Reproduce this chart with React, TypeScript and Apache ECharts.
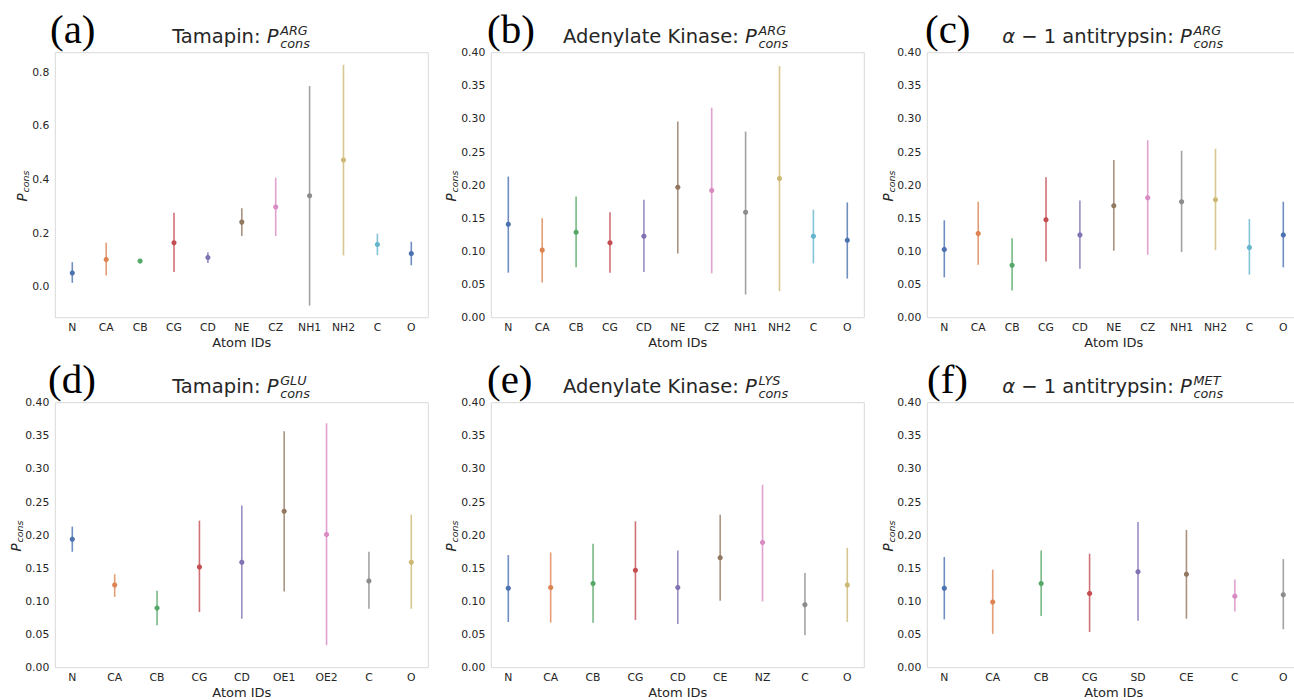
import React, { useEffect, useRef } from 'react';
import * as echarts from 'echarts';

const PALETTE = ['#4C72B0', '#DD8452', '#55A868', '#C44E52', '#8172B3', '#937860', '#DA8BC3', '#8C8C8C', '#CCB974', '#64B5CD'];

// (a) Tamapin ARG
const atomsA = ['N', 'CA', 'CB', 'CG', 'CD', 'NE', 'CZ', 'NH1', 'NH2', 'C', 'O'];
const meanA = [0.052, 0.102, 0.096, 0.164, 0.109, 0.241, 0.297, 0.339, 0.472, 0.158, 0.124];
const lowA = [0.015, 0.042, 0.093, 0.055, 0.089, 0.189, 0.189, -0.070, 0.117, 0.118, 0.080];
const highA = [0.092, 0.164, 0.099, 0.276, 0.129, 0.293, 0.406, 0.748, 0.827, 0.198, 0.168];

// (b) Adenylate Kinase ARG
const atomsB = ['N', 'CA', 'CB', 'CG', 'CD', 'NE', 'CZ', 'NH1', 'NH2', 'C', 'O'];
const meanB = [0.141, 0.102, 0.129, 0.113, 0.123, 0.197, 0.192, 0.159, 0.210, 0.123, 0.117];
const lowB = [0.068, 0.053, 0.076, 0.068, 0.069, 0.097, 0.067, 0.035, 0.040, 0.082, 0.059];
const highB = [0.213, 0.150, 0.183, 0.159, 0.178, 0.296, 0.317, 0.281, 0.380, 0.163, 0.174];

// (c) alpha-1 antitrypsin ARG
const atomsC = ['N', 'CA', 'CB', 'CG', 'CD', 'NE', 'CZ', 'NH1', 'NH2', 'C', 'O'];
const meanC = [0.103, 0.127, 0.079, 0.148, 0.125, 0.169, 0.181, 0.175, 0.178, 0.106, 0.125];
const lowC = [0.061, 0.080, 0.041, 0.085, 0.074, 0.101, 0.095, 0.099, 0.102, 0.065, 0.076];
const highC = [0.147, 0.175, 0.120, 0.212, 0.177, 0.238, 0.268, 0.252, 0.255, 0.149, 0.175];

// (d) Tamapin GLU
const atomsD = ['N', 'CA', 'CB', 'CG', 'CD', 'OE1', 'OE2', 'C', 'O'];
const meanD = [0.194, 0.125, 0.090, 0.152, 0.159, 0.236, 0.201, 0.131, 0.159];
const lowD = [0.175, 0.107, 0.064, 0.084, 0.074, 0.115, 0.034, 0.089, 0.089];
const highD = [0.213, 0.141, 0.116, 0.222, 0.245, 0.357, 0.369, 0.175, 0.231];

// (e) Adenylate Kinase LYS
const atomsE = ['N', 'CA', 'CB', 'CG', 'CD', 'CE', 'NZ', 'C', 'O'];
const meanE = [0.120, 0.121, 0.127, 0.147, 0.121, 0.166, 0.189, 0.095, 0.125];
const lowE = [0.069, 0.068, 0.068, 0.072, 0.066, 0.101, 0.100, 0.049, 0.069];
const highE = [0.170, 0.174, 0.187, 0.221, 0.177, 0.231, 0.276, 0.143, 0.181];

// (f) alpha-1 antitrypsin MET
const atomsF = ['N', 'CA', 'CB', 'CG', 'SD', 'CE', 'C', 'O'];
const meanF = [0.120, 0.099, 0.127, 0.112, 0.145, 0.141, 0.108, 0.110];
const lowF = [0.073, 0.051, 0.078, 0.054, 0.071, 0.074, 0.085, 0.058];
const highF = [0.167, 0.148, 0.177, 0.172, 0.220, 0.208, 0.133, 0.164];

const titleMain = ['Tamapin: ', 'Adenylate Kinase: ', 'α − 1 antitrypsin: ', 'Tamapin: ', 'Adenylate Kinase: ', 'α − 1 antitrypsin: '];
const titleSup = ['ARG', 'ARG', 'ARG', 'GLU', 'LYS', 'MET'];
const letters = ['(a)', '(b)', '(c)', '(d)', '(e)', '(f)'];
const yLimits = [[-0.1149, 0.8719], [0, 0.4], [0, 0.4], [0, 0.4], [0, 0.4], [0, 0.4]];
const yStep = [0.2, 0.05, 0.05, 0.05, 0.05, 0.05];
const yDecimals = [1, 2, 2, 2, 2, 2];

const panelsData = [
  [atomsA, meanA, lowA, highA],
  [atomsB, meanB, lowB, highB],
  [atomsC, meanC, lowC, highC],
  [atomsD, meanD, lowD, highD],
  [atomsE, meanE, lowE, highE],
  [atomsF, meanF, lowF, highF],
];

// layout (pixels)
const frameLefts = [55.3, 491.3, 927.3];
const frameW = 373;
const frameTops = [52.7, 402.7];
const frameH = 265;
const pad = 17;
const letterX = [[50, 487, 925], [48, 487, 927]];
const xPs = [266.7, 745, 1180];
const yLabelX = [[21.5, 450.5, 887.5], [15.5, 450.5, 887.5]];

const FONT = 'DejaVu Sans';
const TXT = '#262626';

export default function App() {
  const ref = useRef<HTMLDivElement>(null);
  useEffect(() => {
    if (!ref.current) return;
    const chart = echarts.init(ref.current, null, { renderer: 'svg' });
    const grids: any[] = [];
    const xAxes: any[] = [];
    const yAxes: any[] = [];
    const series: any[] = [];
    const graphic: any[] = [];

    panelsData.forEach((pd, k) => {
      const [atoms, mean, low, high] = pd as [string[], number[], number[], number[]];
      const row = Math.floor(k / 3);
      const col = k % 3;
      const fl = frameLefts[col];
      const ft = frameTops[row];
      grids.push({ left: fl + pad, top: ft, width: frameW - 2 * pad, height: frameH, containLabel: false });
      xAxes.push({
        type: 'category', gridIndex: k, data: atoms, boundaryGap: false,
        axisLine: { show: false }, axisTick: { show: false }, splitLine: { show: false },
        axisLabel: { interval: 0, margin: 4, fontSize: 10.8, color: TXT, fontFamily: FONT },
        name: 'Atom IDs', nameLocation: 'middle', nameGap: 18,
        nameTextStyle: { fontSize: 13, color: TXT, fontFamily: FONT },
      });
      const step = yStep[k];
      const dec = yDecimals[k];
      yAxes.push({
        type: 'value', gridIndex: k, min: yLimits[k][0], max: yLimits[k][1],
        ...(yLimits[k][0] === 0 ? { interval: step } : { splitNumber: 5 }),
        axisLine: { show: false }, axisTick: { show: false }, splitLine: { show: false },
        axisLabel: {
          margin: 23, fontSize: 10.8, color: TXT, fontFamily: FONT,
          formatter: (v: number) => {
            const n = Math.round(v / step);
            return Math.abs(v - n * step) < 1e-6 ? (n * step).toFixed(dec) : '';
          },
        },
      });
      series.push({
        type: 'custom', xAxisIndex: k, yAxisIndex: k,
        data: atoms.map((_, i) => [i, mean[i], low[i], high[i]]),
        encode: { x: 0, y: 1 },
        renderItem: (params: any, api: any) => {
          const i = api.value(0);
          const t = api.coord([i, api.value(3)]);
          const b = api.coord([i, api.value(2)]);
          const m = api.coord([i, api.value(1)]);
          const color = PALETTE[i % PALETTE.length];
          return {
            type: 'group', children: [
              { type: 'line', shape: { x1: t[0], y1: t[1], x2: b[0], y2: b[1] }, style: { stroke: color, lineWidth: 1.6, opacity: 0.8 } },
              { type: 'circle', shape: { cx: m[0], cy: m[1], r: 2.6 }, style: { fill: color } },
            ],
          };
        },
      });

      // frame
      graphic.push({ type: 'rect', silent: true, shape: { x: fl, y: ft, width: frameW, height: frameH }, style: { fill: 'none', stroke: '#d9d9d9', lineWidth: 1 } });
      // panel letter
      graphic.push({ type: 'text', x: letterX[row][col], y: ft - 24, style: { text: letters[k], font: '41px "Liberation Serif"', fill: '#000', textAlign: 'left', textVerticalAlign: 'middle' } });
      // title
      const xP = xPs[col];
      const ty = ft - 16.4;
      const main = titleMain[k];
      const mainText = main.startsWith('α') ? '{i|α}{n|' + main.slice(1) + '}' : '{n|' + main + '}';
      graphic.push({
        type: 'text', x: xP, y: ty,
        style: {
          text: mainText, textAlign: 'right', textVerticalAlign: 'middle', fill: TXT,
          rich: {
            n: { fontSize: 19.5, fontFamily: FONT, fill: TXT },
            i: { fontSize: 19.5, fontFamily: FONT, fontStyle: 'italic', fill: TXT },
          },
        },
      });
      graphic.push({ type: 'text', x: xP, y: ty, style: { text: 'P', fontSize: 19.5, fontFamily: FONT, fontStyle: 'italic', fill: TXT, textAlign: 'left', textVerticalAlign: 'middle' } });
      graphic.push({ type: 'text', x: xP + 13.5, y: ty - 6, style: { text: titleSup[k], fontSize: 12.8, fontFamily: FONT, fontStyle: 'italic', fill: TXT, textAlign: 'left', textVerticalAlign: 'middle' } });
      graphic.push({ type: 'text', x: xP + 13.5, y: ty + 7, style: { text: 'cons', fontSize: 12.8, fontFamily: FONT, fontStyle: 'italic', fill: TXT, textAlign: 'left', textVerticalAlign: 'middle' } });
      // y label P_cons
      graphic.push({
        type: 'group', x: yLabelX[row][col], y: ft + 133.3, rotation: Math.PI / 2,
        children: [
          { type: 'text', x: -15.5, y: 0, style: { text: 'P', fontSize: 13.5, fontFamily: FONT, fontStyle: 'italic', fill: TXT, textAlign: 'left', textVerticalAlign: 'middle' } },
          { type: 'text', x: -6.5, y: 4, style: { text: 'cons', fontSize: 9.5, fontFamily: FONT, fontStyle: 'italic', fill: TXT, textAlign: 'left', textVerticalAlign: 'middle' } },
        ],
      });
    });

    chart.setOption({
      animation: false,
      backgroundColor: '#ffffff',
      grid: grids,
      xAxis: xAxes,
      yAxis: yAxes,
      series,
      graphic,
    });
    return () => chart.dispose();
  }, []);
  return <div ref={ref} style={{ position: 'fixed', left: 0, top: 0, width: 1294, height: 700, background: '#fff' }} />;
}
